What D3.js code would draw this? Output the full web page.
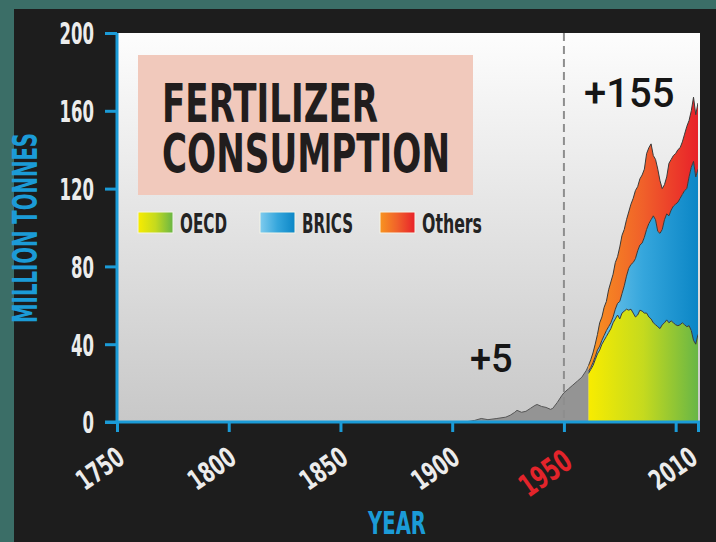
<!DOCTYPE html>
<meta charset="utf-8">
<head>
<script src="https://d3js.org/d3.v7.min.js"></script>
<style>
  body { margin: 0; background: #3b6e67; }
  .cond { font-family: 'Liberation Sans Narrow', 'DejaVu Sans Condensed', 'Roboto', sans-serif; font-weight: bold; }
  .num { font-family: 'Roboto', 'Liberation Sans', sans-serif; font-weight: 500; }
</style>
</head>
<body>
<div id="chart"></div>
<script>
// early world total before the regional split (million tonnes)
var earlyYears = [1905, 1908, 1910, 1913, 1916, 1920, 1924, 1926, 1928, 1929, 1931, 1933, 1935, 1937, 1938,
                  1940, 1942, 1944, 1945, 1947, 1949, 1950, 1952, 1954, 1956, 1958, 1960, 1961];
var earlyTotal = [0, 0.4, 0.8, 1.8, 1.2, 1.8, 2.5, 3.5, 5, 6, 5, 5.5, 7, 8.5, 9,
                  8, 7.5, 6.5, 7, 10, 13.5, 15, 17, 19, 21, 23, 26.5, 29];

// 1961-2010 by region
var years = d3.range(1961, 2011);
var oecd = [25, 27, 29, 32, 35, 37, 40, 42, 44, 46, 48, 51, 53, 55, 53, 56, 57, 58, 57.5, 58,
            56, 54, 55, 57.5, 57, 56, 56, 54, 53, 51, 50, 49, 48, 50, 51, 52.5, 51, 52, 51, 50,
            49.5, 50, 51, 50, 49, 49.5, 47, 42, 40, 45];
var brics = [1, 1, 1.5, 1.5, 2, 2, 2, 2.5, 3, 3, 3, 3, 5, 6, 9, 10, 13, 17, 21.5, 23,
             26, 30, 33, 33.5, 35, 39, 43, 48, 51, 55, 54, 49, 49, 49, 53, 54.5, 55, 57, 60, 62,
             63.5, 65, 66, 69, 71, 76.5, 84, 92, 86, 85];
var others = [3, 4, 5, 6.5, 8, 12, 12, 14.5, 15, 19, 21, 22, 24, 24, 28, 30, 29, 29, 29, 31,
              33, 35, 33, 34, 35, 35, 39, 39, 39, 31, 31, 32, 27, 21, 18, 19, 27, 26, 26, 26,
              27, 26, 27, 29, 32, 29, 29, 33, 32, 34];

var seriesNames = ["OECD", "BRICS", "Others"];
var yTicks = [0, 40, 80, 120, 160, 200];
var xTicks = [1750, 1800, 1850, 1900, 1950, 2000, 2010];

var width = 716, height = 542;

var svg = d3.select("#chart").append("svg")
    .attr("width", width)
    .attr("height", height);

var defs = svg.append("defs");

// dark panel
svg.append("rect").attr("x", 14).attr("y", 9).attr("width", width - 14).attr("height", height - 9)
    .attr("fill", "#1d1d1d");

var x = d3.scaleLinear().domain([1750, 2010]).range([117, 698]);
var y = d3.scaleLinear().domain([0, 200]).range([422, 33]);

// gradients
function grad(id, stops, x1, x2, user) {
  var g = defs.append("linearGradient").attr("id", id);
  if (user) g.attr("gradientUnits", "userSpaceOnUse").attr("x1", x1).attr("x2", x2).attr("y1", 0).attr("y2", 0);
  stops.forEach(function(s, i) {
    g.append("stop").attr("offset", (i / (stops.length - 1) * 100) + "%").attr("stop-color", s);
  });
}
var stopsMap = {
  OECD: ["#f8ec00", "#c5da1e", "#68b646"],
  BRICS: ["#80ccee", "#35a6dc", "#0b86c6"],
  Others: ["#f89420", "#f0602a", "#e8212a"]
};
seriesNames.forEach(function(n) {
  grad("g" + n, stopsMap[n], x(1961), x(2010), true);
  grad("s" + n, stopsMap[n]);
});
var bg = defs.append("linearGradient").attr("id", "bg").attr("x1", 0).attr("x2", 0).attr("y1", 0).attr("y2", 1);
bg.append("stop").attr("offset", "0%").attr("stop-color", "#fdfdfd");
bg.append("stop").attr("offset", "100%").attr("stop-color", "#c8c8c8");

defs.append("clipPath").attr("id", "clip").append("rect")
    .attr("x", x(1750)).attr("y", y(200)).attr("width", x(2010) - x(1750)).attr("height", y(0) - y(200));

// plot background
svg.append("rect")
    .attr("x", x(1750)).attr("y", y(200))
    .attr("width", x(2010) + 2 - x(1750)).attr("height", y(0) - y(200))
    .attr("fill", "url(#bg)");

var plot = svg.append("g").attr("clip-path", "url(#clip)");

// early gray area
var early = earlyYears.map(function(yr, i) { return {year: yr, v: earlyTotal[i]}; });
plot.append("path").datum(early)
    .attr("fill", "#949494")
    .attr("d", d3.area().x(d => x(d.year)).y0(y(0)).y1(d => y(d.v)));
plot.append("path").datum(early)
    .attr("fill", "none").attr("stroke", "#555").attr("stroke-width", 1)
    .attr("d", d3.line().x(d => x(d.year)).y(d => y(d.v)));

// stacked regions
var rows = years.map(function(yr, i) { return {year: yr, OECD: oecd[i], BRICS: brics[i], Others: others[i]}; });
var stacked = d3.stack().keys(seriesNames)(rows);

var area = d3.area().x(d => x(d.data.year)).y0(d => y(d[0])).y1(d => y(d[1]));
var topLine = d3.line().x(d => x(d.data.year)).y(d => y(d[1]));

plot.selectAll(".layer").data(stacked).enter().append("path")
    .attr("class", "layer")
    .attr("fill", d => "url(#g" + d.key + ")")
    .attr("d", area);
plot.selectAll(".edge").data(stacked).enter().append("path")
    .attr("class", "edge")
    .attr("fill", "none").attr("stroke", "#3a3a3a").attr("stroke-width", 1)
    .attr("d", topLine);

// 1950 dashed marker
svg.append("line")
    .attr("x1", x(1950)).attr("x2", x(1950)).attr("y1", y(200)).attr("y2", y(0))
    .attr("stroke", "#8e8e8e").attr("stroke-width", 2).attr("stroke-dasharray", "8,5");

// axes
var axisBlue = "#1b9bd7";
var yAxis = svg.append("g").attr("transform", "translate(" + x(1750) + ",0)")
    .call(d3.axisLeft(y).tickValues(yTicks).tickSize(12).tickPadding(11));
var xAxis = svg.append("g").attr("transform", "translate(0," + y(0) + ")")
    .call(d3.axisBottom(x).tickValues(xTicks).tickSize(10).tickFormat(d => d === 2000 ? "" : d));

[yAxis, xAxis].forEach(function(a) {
  a.select(".domain").attr("stroke", axisBlue).attr("stroke-width", 3);
  a.selectAll(".tick line").attr("stroke", axisBlue).attr("stroke-width", 3);
});
yAxis.select(".domain").attr("d", "M0," + y(200) + "V" + y(0));
xAxis.select(".domain").attr("d", "M" + (x(1750) - 12) + ",0H" + (x(2010) + 2));

yAxis.selectAll(".tick text")
    .attr("class", "cond")
    .attr("fill", "#ececec")
    .style("font-size", "30px")
    .attr("dy", "0.36em")
    .attr("textLength", d => String(d).length * 11.5)
    .attr("lengthAdjust", "spacingAndGlyphs");

xAxis.selectAll(".tick text")
    .attr("class", "cond")
    .attr("fill", d => d === 1950 ? "#e3242b" : "#ececec")
    .style("font-size", d => d === 1950 ? "31px" : "28px")
    .attr("text-anchor", "end")
    .attr("transform", function(d) {
      if (d === 1950) return "translate(10,44) rotate(-35)";
      if (d === 2010) return "translate(1,40) rotate(-35)";
      return "translate(9,40) rotate(-35)";
    })
    .attr("textLength", d => d === 2000 ? null : (d === 1950 ? 56 : 51))
    .attr("lengthAdjust", "spacingAndGlyphs")
    .attr("y", 0).attr("dy", 0);

// axis titles
svg.append("text")
    .attr("class", "cond")
    .attr("transform", "translate(37,228) rotate(-90)")
    .attr("text-anchor", "middle")
    .attr("fill", axisBlue)
    .style("font-size", "33px")
    .attr("textLength", 190).attr("lengthAdjust", "spacingAndGlyphs")
    .text("MILLION TONNES");

svg.append("text")
    .attr("class", "cond")
    .attr("x", 397).attr("y", 534)
    .attr("text-anchor", "middle")
    .attr("fill", axisBlue)
    .style("font-size", "32px")
    .attr("textLength", 58).attr("lengthAdjust", "spacingAndGlyphs")
    .text("YEAR");

// title box
svg.append("rect").attr("x", 138).attr("y", 55).attr("width", 335).attr("height", 140)
    .attr("fill", "#f1c9bc");
var title = svg.append("text").attr("class", "cond")
    .attr("fill", "#211d1d")
    .style("font-size", "54px");
title.append("tspan")
    .attr("x", 162).attr("y", 122)
    .attr("textLength", 216).attr("lengthAdjust", "spacingAndGlyphs")
    .text("FERTILIZER");
title.append("tspan")
    .attr("x", 162).attr("y", 172)
    .attr("textLength", 288).attr("lengthAdjust", "spacingAndGlyphs")
    .text("CONSUMPTION");

// legend
var legendX = [138, 260, 380];
var labelW = [47, 51, 60];
var leg = svg.selectAll(".leg").data(seriesNames).enter().append("g")
    .attr("class", "leg")
    .attr("transform", (d, i) => "translate(" + legendX[i] + ",212)");
leg.append("rect").attr("width", 35).attr("height", 21)
    .attr("fill", d => "url(#s" + d + ")")
    .attr("stroke", "#f4f4e8").attr("stroke-width", 1);
leg.append("text").attr("class", "cond")
    .attr("x", 42).attr("y", 20.5)
    .attr("fill", "#232323")
    .style("font-size", "26px")
    .attr("textLength", (d, i) => labelW[i]).attr("lengthAdjust", "spacingAndGlyphs")
    .text(d => d);

// annotations
svg.append("text").attr("class", "num")
    .attr("x", 470).attr("y", 372).attr("fill", "#161616")
    .style("font-size", "38px")
    .text("+5");
svg.append("text").attr("class", "num")
    .attr("x", 584).attr("y", 107).attr("fill", "#161616")
    .style("font-size", "40px")
    .text("+155");
</script>
</body>
</html>
